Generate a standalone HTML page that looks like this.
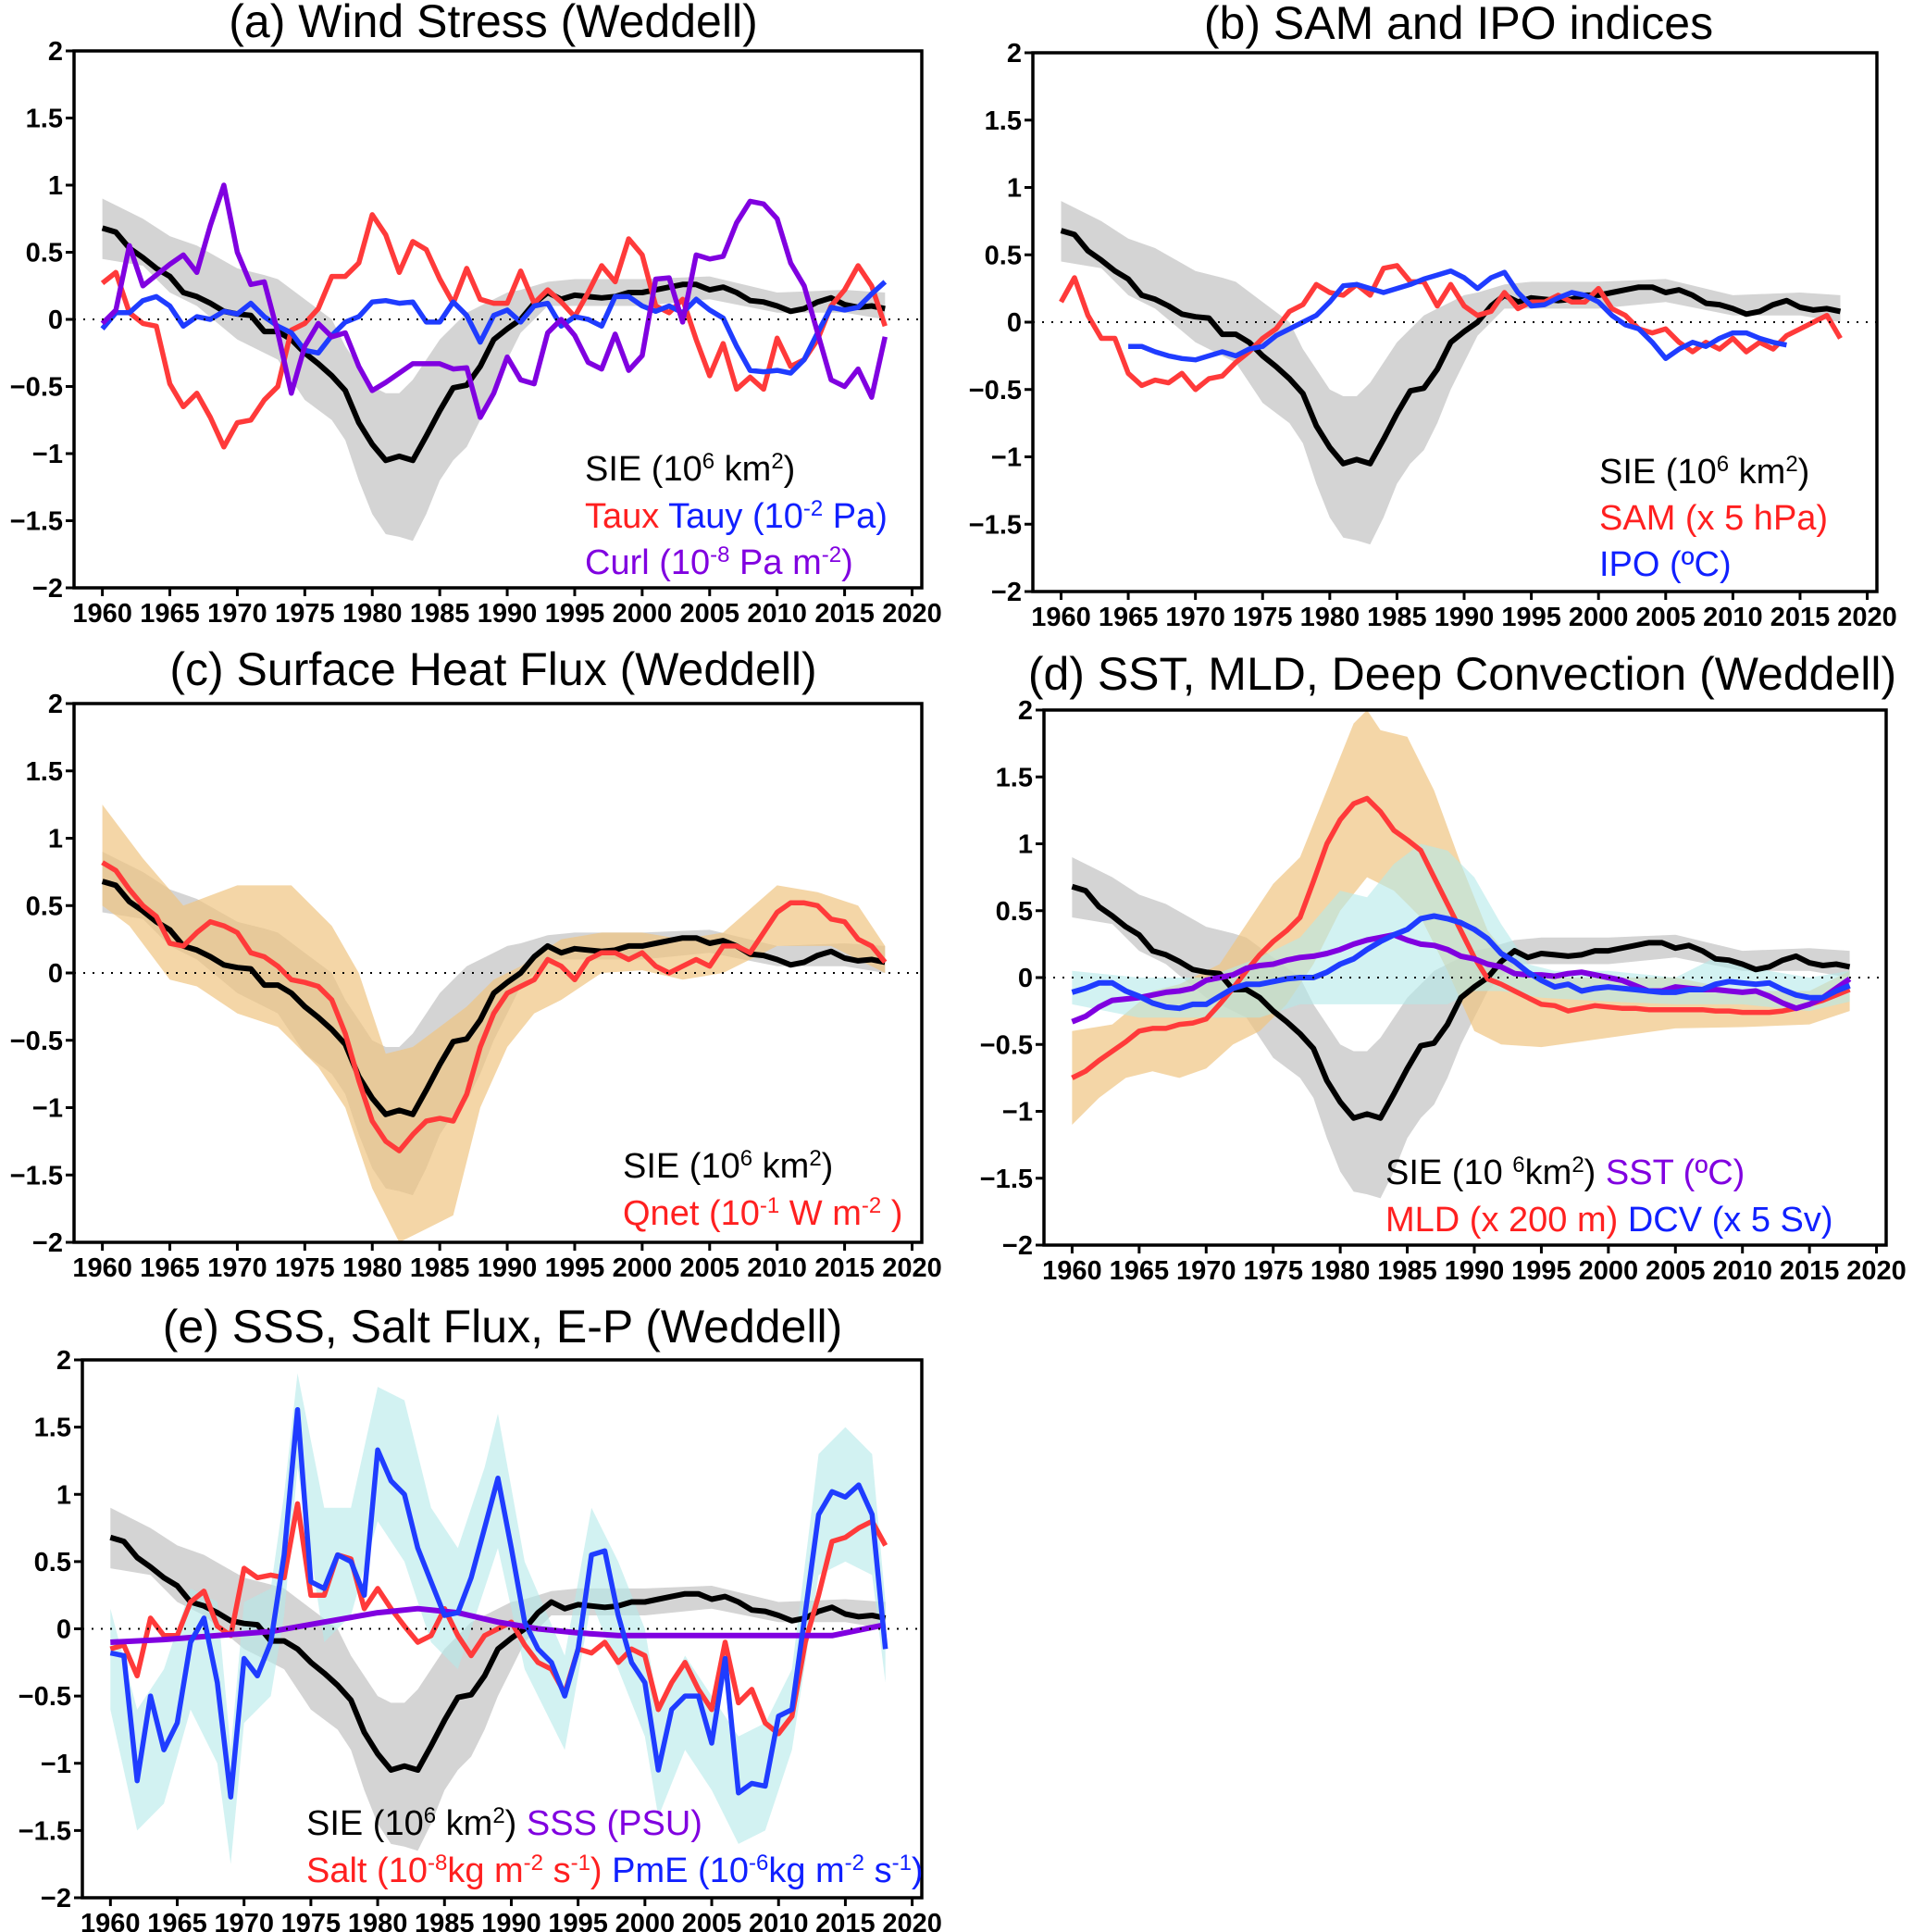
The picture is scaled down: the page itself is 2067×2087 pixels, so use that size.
<!DOCTYPE html>
<html><head><meta charset="utf-8"><style>
html,body{margin:0;padding:0;background:#fff}
svg{display:block}
text{font-family:"Liberation Sans",sans-serif}
.tick{font-family:"Liberation Sans Narrow","Liberation Sans",sans-serif;font-weight:bold;font-size:29px}
.title{font-size:50px}
.leg{font-size:38px}
</style></head><body>
<svg id="fig" width="2067" height="2087" viewBox="0 0 2067 2087" xmlns="http://www.w3.org/2000/svg"></svg>
<script>
// ---------- data ----------
const years = []; for (let y = 1960; y <= 2018; y++) years.push(y);
const sie = [.68,.65,.53,.46,.38,.32,.2,.17,.12,.06,.04,.03,-.09,-.09,-.15,-.25,-.33,-.42,-.53,-.77,-.93,-1.05,-1.02,-1.05,-.87,-.68,-.51,-.49,-.35,-.15,-.07,0,.12,.2,.15,.18,.17,.16,.17,.2,.2,.22,.24,.26,.26,.22,.24,.2,.14,.13,.1,.06,.08,.13,.16,.11,.09,.1,.08];
const sieBandYears = [1960,1963,1965,1967,1970,1972,1973,1975,1977,1978,1979,1980,1981,1982,1983,1984,1985,1986,1987,1988,1989,1990,1991,1992,1993,1995,2000,2005,2010,2015,2018];
const sieUpper = [.9,.75,.62,.55,.38,.33,.3,.15,0,-.2,-.35,-.5,-.55,-.55,-.45,-.3,-.15,-.05,.05,.1,.15,.2,.22,.25,.28,.3,.3,.32,.2,.22,.2];
const sieLower = [.45,.4,.2,.1,-.15,-.25,-.3,-.6,-.75,-.9,-1.2,-1.45,-1.6,-1.62,-1.65,-1.45,-1.2,-1.05,-.95,-.75,-.5,-.3,-.1,0,.1,.1,.1,.15,.05,.05,0];

const taux = [.27,.35,.05,-.03,-.05,-.48,-.65,-.55,-.73,-.95,-.77,-.75,-.6,-.5,-.08,-.03,.08,.32,.32,.42,.78,.63,.35,.58,.52,.3,.12,.38,.15,.12,.12,.36,.12,.22,.13,.02,.2,.4,.28,.6,.48,.1,.05,.15,-.15,-.42,-.18,-.52,-.43,-.52,-.14,-.35,-.3,-.15,.1,.22,.4,.25,-.05];
const tauy = [-.07,.05,.05,.14,.17,.1,-.05,.02,0,.06,.04,.12,.02,-.05,-.1,-.23,-.25,-.12,-.02,.02,.13,.14,.12,.13,-.02,-.02,.13,.03,-.17,.03,.07,-.02,.1,.12,-.05,.02,0,-.05,.17,.17,.1,.06,.1,.05,.15,.07,.01,-.2,-.38,-.39,-.38,-.4,-.3,-.1,.09,.07,.09,.19,.28];
const curl = [-.03,.07,.55,.25,.33,.41,.48,.35,.7,1.0,.5,.26,.28,-.1,-.55,-.2,-.03,-.13,-.1,-.35,-.53,-.47,-.4,-.33,-.33,-.33,-.37,-.36,-.73,-.55,-.28,-.45,-.48,-.1,0,-.12,-.32,-.37,-.11,-.38,-.27,.3,.31,-.02,.48,.45,.47,.72,.88,.86,.75,.42,.25,-.1,-.45,-.5,-.37,-.58,-.13];

const sam = [.15,.33,.05,-.12,-.12,-.38,-.47,-.43,-.45,-.38,-.5,-.42,-.4,-.3,-.22,-.12,-.05,.08,.13,.28,.22,.2,.28,.2,.4,.42,.3,.3,.12,.28,.12,.05,.08,.22,.1,.15,.15,.2,.15,.15,.25,.1,.05,-.05,-.08,-.05,-.15,-.22,-.15,-.2,-.12,-.22,-.15,-.2,-.1,-.05,0,.05,-.12];
const ipoYears = []; for (let y = 1965; y <= 2014; y++) ipoYears.push(y);
const ipo = [-.18,-.18,-.22,-.25,-.27,-.28,-.25,-.22,-.25,-.2,-.18,-.1,-.05,0,.05,.15,.27,.28,.25,.22,.25,.28,.32,.35,.38,.33,.25,.33,.37,.22,.12,.13,.18,.22,.2,.15,.05,-.02,-.05,-.15,-.27,-.2,-.15,-.18,-.12,-.08,-.08,-.12,-.15,-.17];

const qnet = [.82,.76,.62,.5,.42,.22,.2,.3,.38,.35,.3,.15,.12,.05,-.05,-.07,-.1,-.2,-.45,-.8,-1.1,-1.25,-1.32,-1.2,-1.1,-1.08,-1.1,-.9,-.55,-.3,-.15,-.1,-.05,.1,.05,-.05,.1,.15,.15,.1,.15,.05,0,.05,.1,.05,.2,.2,.15,.3,.45,.52,.52,.5,.4,.38,.25,.2,.08];
const qBandYearsU = [1960,1963,1966,1970,1974,1977,1979,1981,1983,1985,1987,1989,1991,1994,1997,2000,2003,2006,2010,2013,2016,2018];
const qUpper = [1.25,.85,.5,.65,.65,.35,0,-.6,-.55,-.4,-.25,-.05,.05,.25,.3,.3,.25,.3,.65,.6,.5,.2];
const qBandYearsL = [1960,1962,1965,1967,1970,1973,1976,1978,1980,1982,1984,1986,1988,1990,1992,1994,1997,2000,2003,2006,2010,2014,2016,2018];
const qLower = [.5,.35,-.05,-.1,-.3,-.4,-.7,-1.0,-1.6,-2.0,-1.9,-1.8,-1.0,-.55,-.3,-.2,0,.02,-.05,0,.2,.2,.1,0];

const mld = [-.75,-.7,-.62,-.55,-.48,-.4,-.38,-.38,-.35,-.34,-.31,-.2,-.08,.05,.17,.27,.35,.45,.72,1.0,1.18,1.3,1.34,1.24,1.1,1.03,.95,.75,.55,.35,.15,-.01,-.05,-.1,-.15,-.2,-.21,-.25,-.23,-.21,-.22,-.23,-.23,-.24,-.24,-.24,-.24,-.24,-.25,-.25,-.26,-.26,-.26,-.25,-.23,-.2,-.17,-.13,-.09];
const sst = [-.33,-.29,-.22,-.17,-.16,-.15,-.13,-.11,-.1,-.08,-.02,0,.02,.07,.09,.1,.13,.15,.16,.18,.21,.25,.28,.3,.32,.28,.25,.24,.21,.16,.14,.1,.08,.03,.02,.02,.01,.03,.04,.02,0,-.02,-.06,-.1,-.1,-.07,-.08,-.09,-.09,-.1,-.11,-.1,-.14,-.19,-.23,-.2,-.15,-.08,-.01];
const dcv = [-.11,-.08,-.04,-.04,-.1,-.14,-.19,-.22,-.23,-.2,-.2,-.14,-.08,-.05,-.05,-.03,-.01,0,0,.04,.1,.14,.21,.27,.32,.36,.44,.46,.44,.41,.36,.29,.18,.12,.04,-.02,-.07,-.05,-.1,-.08,-.07,-.08,-.09,-.1,-.11,-.11,-.09,-.09,-.05,-.03,-.04,-.05,-.04,-.09,-.13,-.15,-.15,-.1,-.06];
const mldBandYearsU = [1960,1963,1966,1968,1971,1973,1975,1977,1979,1981,1982,1983,1985,1987,1989,1991,1993,1995,2000,2005,2010,2015,2018];
const mldUpper = [-.4,-.35,-.1,-.05,.1,.4,.7,.9,1.4,1.9,2.0,1.85,1.8,1.4,.85,.35,.1,0,0,0,-.1,-.1,.05];
const mldBandYearsL = [1960,1962,1964,1966,1968,1970,1972,1974,1976,1978,1980,1982,1984,1986,1988,1990,1992,1995,2000,2005,2010,2015,2018];
const mldLower = [-1.1,-.9,-.75,-.7,-.75,-.68,-.5,-.4,-.2,.1,.5,.75,.65,.45,.05,-.4,-.5,-.52,-.45,-.38,-.37,-.35,-.25];
const dcvBandYearsU = [1960,1965,1970,1974,1977,1980,1982,1984,1986,1988,1990,1992,1994,1996,2000,2005,2008,2012,2015,2018];
const dcvUpper = [.05,0,0,.15,.3,.65,.6,.85,1.0,.95,.75,.4,.1,.05,.05,0,.15,.05,0,.05];
const dcvBandYearsL = [1960,1965,1968,1970,1974,1977,1980,1984,1988,1990,1992,1995,2000,2005,2010,2015,2018];
const dcvLower = [-.2,-.3,-.3,-.3,-.3,-.2,-.2,-.2,-.2,-.1,-.1,-.15,-.18,-.2,-.2,-.25,-.18];

const pme = [-.18,-.2,-1.13,-.5,-.9,-.7,-.1,.08,-.4,-1.25,-.22,-.35,-.1,.55,1.63,.35,.3,.55,.5,.25,1.33,1.1,1.0,.6,.35,.1,.12,.38,.75,1.12,.6,.05,-.15,-.25,-.5,-.15,.55,.58,.1,-.25,-.4,-1.05,-.6,-.5,-.5,-.85,-.22,-1.22,-1.15,-1.17,-.65,-.6,.12,.85,1.02,.98,1.07,.85,-.15];
const salt = [-.15,-.12,-.35,.08,-.05,-.05,.2,.28,.02,-.05,.45,.38,.4,.38,.93,.25,.25,.55,.52,.15,.3,.15,.02,-.1,-.05,.15,-.05,-.2,-.05,0,.05,-.12,-.25,-.3,-.48,-.15,-.18,-.1,-.25,-.15,-.2,-.6,-.4,-.25,-.45,-.6,-.1,-.55,-.45,-.7,-.78,-.65,-.1,.25,.65,.68,.75,.8,.62];
const sssYears = [1960,1964,1968,1972,1976,1980,1983,1986,1989,1992,1995,1998,2000,2005,2010,2014,2018];
const sss = [-.1,-.08,-.05,-.02,.05,.12,.15,.12,.05,0,-.03,-.05,-.05,-.05,-.05,-.05,.03];
const pmeBandYears = [1960,1962,1964,1966,1968,1969,1970,1972,1973,1974,1976,1978,1980,1982,1984,1986,1988,1989,1991,1994,1996,1998,2000,2001,2003,2005,2007,2009,2011,2013,2015,2017,2018];
const pmeUpper = [.15,-.6,-.3,.3,.2,-.9,.2,.3,1.0,1.9,.9,.9,1.8,1.7,.9,.6,1.2,1.6,.5,-.2,.9,.5,0,-.6,-.2,-.5,-.8,-.7,-.3,1.3,1.5,1.3,.2];
const pmeLower = [-.6,-1.5,-1.3,-.6,-1.0,-1.75,-.7,-.5,.1,1.2,-.1,.1,.8,.5,-.1,-.3,.3,.6,-.3,-.9,.2,-.3,-.8,-1.4,-.9,-1.2,-1.6,-1.5,-.9,.4,.5,.4,-.4];

const yTickVals = [2,1.5,1,0.5,0,-0.5,-1,-1.5,-2];
const yTickLabels = ["2","1.5","1","0.5","0","\u22120.5","\u22121","\u22121.5","\u22122"];
const xTickVals = [1960,1965,1970,1975,1980,1985,1990,1995,2000,2005,2010,2015,2020];

// ---------- drawing ----------
const NS = "http://www.w3.org/2000/svg";
const svg = document.getElementById("fig");
const C = {black:"#000",red:"#ff3a3a",blue:"#1f3cff",purple:"#8000e0",gray:"#d4d4d4",orange:"rgba(240,196,130,0.7)",cyan:"rgba(180,234,234,0.6)"};
function mk(tag, attrs, parent){const e=document.createElementNS(NS,tag);for(const k in attrs)e.setAttribute(k,attrs[k]);(parent||svg).appendChild(e);return e;}

function panel(cfg){
  const g = mk("g",{});
  
  
  const X0=1957.9, X1=2020.72;
  const xs = v => cfg.l + (v-X0)/(X1-X0)*(cfg.r-cfg.l);
  const ys = v => cfg.b - (v+2)/4*(cfg.b-cfg.t);
  const band = (yu, u, yl, l, fill, name) => {
    let pts = yu.map((y,i)=>xs(y).toFixed(1)+","+ys(u[i]).toFixed(1));
    for (let i=yl.length-1;i>=0;i--) pts.push(xs(yl[i]).toFixed(1)+","+ys(l[i]).toFixed(1));
    const p = mk("polygon",{points:pts.join(" "),fill:fill,stroke:"none"},g);
    
    
  };
  const line = (yr, v, color, name, w) => {
    const d = yr.map((y,i)=>(i?"L":"M")+xs(y).toFixed(1)+" "+ys(v[i]).toFixed(1)).join("");
    const p = mk("path",{d:d,fill:"none",stroke:color,"stroke-width":w||5.5,"stroke-linejoin":"round"},g);
    
    
  };
  cfg.draw(band, line);
  const z = mk("line",{x1:cfg.l,x2:cfg.r,y1:ys(0),y2:ys(0),stroke:"#000","stroke-width":2,"stroke-dasharray":"2,8"},g);
  
  
  const fr = mk("rect",{x:cfg.l,y:cfg.t,width:cfg.r-cfg.l,height:cfg.b-cfg.t,fill:"none",stroke:"#000","stroke-width":3.5},g);
  
  
  yTickVals.forEach((v,i)=>{
    mk("line",{x1:cfg.l-9,x2:cfg.l,y1:ys(v),y2:ys(v),stroke:"#000","stroke-width":3},g);
    const t = mk("text",{x:cfg.l-12,y:ys(v)+10,"text-anchor":"end",class:"tick"},g);
    t.textContent = yTickLabels[i];
    
    
  });
  xTickVals.forEach(v=>{
    mk("line",{x1:xs(v),x2:xs(v),y1:cfg.b,y2:cfg.b+9,stroke:"#000","stroke-width":3},g);
    const t = mk("text",{x:xs(v),y:cfg.b+37,"text-anchor":"middle",class:"tick"},g);
    t.textContent = String(v);
    
    
  });
  const tt = mk("text",{x:cfg.tx,y:cfg.ty,"text-anchor":"middle",class:"title"},g);
  tt.textContent = cfg.title;
  
  
  cfg.legend.forEach(row=>{
    const t = mk("text",{x:row.x,y:row.y,class:"leg"},g);
    
    
    row.parts.forEach(p=>{
      const s = mk("tspan",{fill:p[1]},t);
      if (p[2]) {s.setAttribute("baseline-shift","super");s.setAttribute("font-size","24");}
      s.textContent = p[0];
    });
  });
}
const K="#000",R="#ff2020",B="#1020ff",P="#8000e0";
const drawSIEband = band => band(sieBandYears,sieUpper,sieBandYears,sieLower,C.gray,"sie-band");

panel({id:"panel-a",l:80,r:996,t:55,b:635,tx:533,ty:40,title:"(a) Wind Stress (Weddell)",
  draw:(band,line)=>{drawSIEband(band);line(years,sie,C.black,"sie-line",6);line(years,taux,C.red,"taux-line");line(years,tauy,C.blue,"tauy-line");line(years,curl,C.purple,"curl-line");},
  legend:[{x:632,y:519,parts:[["SIE (10",K],["6",K,1],[" km",K],["2",K,1],[")",K]]},
          {x:632,y:570,parts:[["Taux ",R],["Tauy (10",B],["-2",B,1],[" Pa)",B]]},
          {x:632,y:620,parts:[["Curl (10",P],["-8",P,1],[" Pa m",P],["-2",P,1],[")",P]]}]});
panel({id:"panel-b",l:1116,r:2028,t:57,b:639,tx:1576,ty:42,title:"(b) SAM and IPO indices",
  draw:(band,line)=>{drawSIEband(band);line(years,sie,C.black,"sie-line",6);line(years,sam,C.red,"sam-line");line(ipoYears,ipo,C.blue,"ipo-line");},
  legend:[{x:1728,y:522,parts:[["SIE (10",K],["6",K,1],[" km",K],["2",K,1],[")",K]]},
          {x:1728,y:572,parts:[["SAM (x 5 hPa)",R]]},
          {x:1728,y:622,parts:[["IPO (ºC)",B]]}]});
panel({id:"panel-c",l:80,r:996,t:760,b:1342,tx:533,ty:740,title:"(c) Surface Heat Flux (Weddell)",
  draw:(band,line)=>{drawSIEband(band);band(qBandYearsU,qUpper,qBandYearsL,qLower,C.orange,"qnet-band");line(years,sie,C.black,"sie-line",6);line(years,qnet,C.red,"qnet-line");},
  legend:[{x:673,y:1272,parts:[["SIE (10",K],["6",K,1],[" km",K],["2",K,1],[")",K]]},
          {x:673,y:1323,parts:[["Qnet (10",R],["-1",R,1],[" W m",R],["-2",R,1],[" )",R]]}]});
panel({id:"panel-d",l:1128,r:2038,t:767,b:1345,tx:1580,ty:745,title:"(d) SST, MLD, Deep Convection (Weddell)",
  draw:(band,line)=>{drawSIEband(band);band(mldBandYearsU,mldUpper,mldBandYearsL,mldLower,C.orange,"mld-band");band(dcvBandYearsU,dcvUpper,dcvBandYearsL,dcvLower,C.cyan,"dcv-band");line(years,sie,C.black,"sie-line",6);line(years,mld,C.red,"mld-line");line(years,sst,C.purple,"sst-line",6);line(years,dcv,C.blue,"dcv-line",6);},
  legend:[{x:1497,y:1279,parts:[["SIE (10 ",K],["6",K,1],["km",K],["2",K,1],[") ",K],["SST (ºC)",P]]},
          {x:1497,y:1330,parts:[["MLD (x 200 m) ",R],["DCV (x 5 Sv)",B]]}]});
panel({id:"panel-e",l:89,r:996,t:1469,b:2050,tx:543,ty:1450,title:"(e) SSS, Salt Flux, E-P (Weddell)",
  draw:(band,line)=>{drawSIEband(band);band(pmeBandYears,pmeUpper,pmeBandYears,pmeLower,C.cyan,"pme-band");line(years,sie,C.black,"sie-line",6);line(years,salt,C.red,"salt-line");line(sssYears,sss,C.purple,"sss-line",6);line(years,pme,C.blue,"pme-line");},
  legend:[{x:331,y:1982,parts:[["SIE (10",K],["6",K,1],[" km",K],["2",K,1],[") ",K],["SSS (PSU)",P]]},
          {x:331,y:2033,parts:[["Salt (10",R],["-8",R,1],["kg m",R],["-2",R,1],[" s",R],["-1",R,1],[") ",R],["PmE (10",B],["-6",B,1],["kg m",B],["-2",B,1],[" s",B],["-1",B,1],[")",B]]}]});
</script>
</body></html>
